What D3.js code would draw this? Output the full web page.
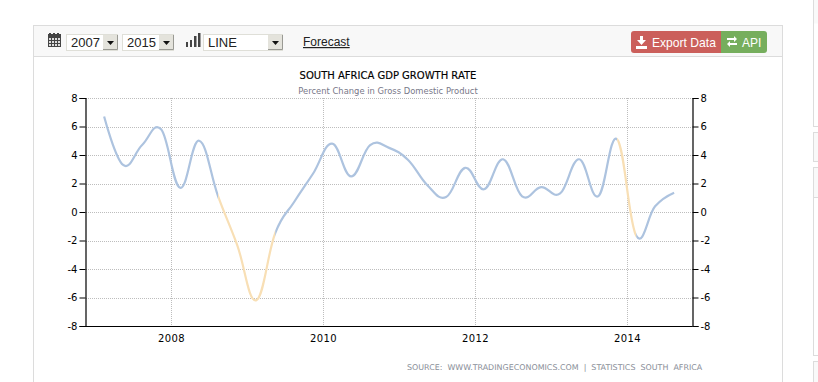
<!DOCTYPE html>
<html><head><meta charset="utf-8">
<script src="https://cdnjs.cloudflare.com/ajax/libs/d3/7.8.5/d3.min.js"></script>
<style>html,body{margin:0;padding:0;background:#fff;overflow:hidden}svg{display:block}</style>
</head><body><svg id="c" width="818" height="382"></svg>
<script>
const years=[2008,2010,2012,2014];
const yTicks=[-8,-6,-4,-2,0,2,4,6,8];
const quarters=[2007.12,2007.37,2007.62,2007.87,2008.12,2008.37,2008.62,2008.87,2009.12,2009.37,2009.62,2009.87,2010.12,2010.37,2010.62,2010.87,2011.12,2011.37,2011.62,2011.87,2012.12,2012.37,2012.62,2012.87,2013.12,2013.37,2013.62,2013.87,2014.12,2014.37,2014.62];
const growth=[6.7,3.3,4.7,5.8,1.7,5,1.1,-2.3,-6.2,-1.5,0.7,2.7,4.8,2.5,4.7,4.5,3.65,1.9,1.05,3.1,1.6,3.7,1.1,1.75,1.3,3.7,1.1,5.1,-1.65,0.4,1.35];
const orangeRuns=[[2008.62,2009.37],[2013.87,2014.12]];
const blueRuns=[[2007,2008.62],[2009.37,2013.87],[2014.12,2015]];
const title="SOUTH AFRICA GDP GROWTH RATE";
const subtitle="Percent Change in Gross Domestic Product";
const source="SOURCE:  WWW.TRADINGECONOMICS.COM  |  STATISTICS  SOUTH  AFRICA";
const startYear="2007",endYear="2015",chartType="LINE";

const svg=d3.select("#c");
const x=d3.scaleLinear().domain([2008,2014]).range([171,627]);
const y=d3.scaleLinear().domain([-8,8]).range([326,98]);
const L=85.5,R=692.5;
const ui="'Liberation Sans',Arial,sans-serif", ch="'DejaVu Sans',Verdana,sans-serif";

// panel
svg.append("rect").attr("x",33.5).attr("y",25.5).attr("width",749).attr("height",370).attr("fill","#fff").attr("stroke","#dcdcdc");
svg.append("rect").attr("x",33.5).attr("y",25.5).attr("width",749).attr("height",31).attr("fill","#f8f8f8").attr("stroke","#dcdcdc");
// neighbouring boxes at the right edge
[[-10,126.5,null],[132.5,161.5,null],[167.5,355.5,197.5],[361.5,400,null]].forEach(b=>{
  const g=svg.append("g");
  g.append("rect").attr("x",813.5).attr("y",b[0]).attr("width",20).attr("height",b[1]-b[0]).attr("fill","#fff").attr("stroke","#dcdcdc");
  g.append("rect").attr("x",814).attr("y",b[0]+.5).attr("width",6).attr("height",(b[2]||(b[0]<0?24:b[1]))-b[0]-1).attr("fill","#f9f9f9");
  if(b[2]) g.append("line").attr("x1",813.5).attr("x2",818).attr("y1",b[2]).attr("y2",b[2]).attr("stroke","#dcdcdc");
});

// calendar icon
const cal=svg.append("g");
cal.append("rect").attr("x",48).attr("y",34).attr("width",13).attr("height",13).attr("fill","#444");
[50,54,58].forEach(a=>cal.append("rect").attr("x",a-1).attr("y",33).attr("width",2).attr("height",3).attr("fill","#444"));
[38,41,44].forEach(b=>[49,52,55,58].forEach(a=>cal.append("rect").attr("x",a).attr("y",b).attr("width",2).attr("height",2).attr("fill","#ddd")));
function select(xp,w,t){
  const g=svg.append("g");
  g.append("rect").attr("x",xp+.5).attr("y",34.5).attr("width",w-1).attr("height",16).attr("fill","#fff").attr("stroke","#dfdfd8").attr("stroke-width",1);
  g.append("text").attr("x",xp+5).attr("y",46.5).attr("font-family",ui).attr("font-size",13).attr("fill","#222").text(t);
  g.append("rect").attr("x",xp+w-15).attr("y",35).attr("width",14).attr("height",15).attr("fill","#e4e3dc");
  g.append("path").attr("d",`M${xp+w-11} 41h7l-3.5 4z`).attr("fill","#111");
  g.append("path").attr("d",`M${xp+w-15} 49.5h14.5V35`).attr("fill","none").attr("stroke","#9a9a94");
}
select(66,52,startYear);select(122,52,endYear);select(203,80,chartType);
[[186,42,2],[190,40,2],[194,36,2.5],[198,33,2.5]].forEach(b=>svg.append("rect").attr("x",b[0]).attr("y",b[1]).attr("width",b[2]).attr("height",47-b[1]).attr("fill","#444"));
svg.append("text").attr("x",303).attr("y",46).attr("font-family",ui).attr("font-size",12).attr("fill","#222").attr("text-decoration","underline").text("Forecast");

// buttons
svg.append("path").attr("d","M721 31h-87a3 3 0 0 0-3 3v16a3 3 0 0 0 3 3h87z").attr("fill","#cb5f5b");
svg.append("path").attr("d","M721 31h43a3 3 0 0 1 3 3v16a3 3 0 0 1-3 3h-43z").attr("fill","#76ae5d");
svg.append("path").attr("d","M640 36h3v4h3l-4.5 5-4.5-5h3zM636 46h11v3h-11z").attr("fill","#fff");
svg.append("text").attr("x",652).attr("y",46.5).attr("font-family",ui).attr("font-size",12.1).attr("fill","#fff").text("Export Data");
svg.append("path").attr("d","M727 38h7v-2l3 3-3 3v-2h-7zM737 43h-7v-2l-3 3 3 3v-2h7z").attr("fill","#fff");
svg.append("text").attr("x",742).attr("y",46.5).attr("font-family",ui).attr("font-size",12).attr("fill","#fff").text("API");

// titles
svg.append("text").attr("x",388).attr("y",79).attr("text-anchor","middle").attr("font-family",ch).attr("font-size",10).attr("fill","#000").attr("stroke","#000").attr("stroke-width",.15).text(title);
svg.append("text").attr("x",388).attr("y",94).attr("text-anchor","middle").attr("font-family",ch).attr("font-size",8.4).attr("fill","#778").text(subtitle);

// grid
const grid=svg.append("g").attr("stroke","#bdbdbd").attr("stroke-dasharray","1 1");
yTicks.slice(1).forEach(v=>grid.append("line").attr("x1",86).attr("x2",692).attr("y1",Math.round(y(v))+.5).attr("y2",Math.round(y(v))+.5));
years.forEach(v=>grid.append("line").attr("x1",x(v)+.5).attr("x2",x(v)+.5).attr("y1",98).attr("y2",326));

// axes
const fmt=d=>String(d);
const axL=svg.append("g").attr("transform",`translate(${L},0)`).call(d3.axisLeft(y).tickValues(yTicks).tickFormat(fmt).tickSize(6).tickPadding(2));
const axR=svg.append("g").attr("transform",`translate(${R},0)`).call(d3.axisRight(y).tickValues(yTicks).tickFormat(fmt).tickSize(6).tickPadding(2));
const axB=svg.append("g").attr("transform","translate(0,326.5)").call(d3.axisBottom(x).tickValues(years).tickFormat(fmt).tickSize(0).tickPadding(8));
axB.select(".domain").attr("d",`M${L},0H${R}`);
[axL,axR,axB].forEach(a=>{a.selectAll("path.domain").attr("stroke","#000").attr("stroke-width",1.2);a.selectAll("line").attr("stroke","#000");a.selectAll("text").attr("font-family",ch).attr("font-size",10).attr("fill","#000");});
axB.selectAll("text").attr("letter-spacing",.4);

// series
const line=d3.line().x((d,i)=>x(quarters[i])).y(d=>y(d)).curve(d3.curveCardinal.tension(-0.2));
const defs=svg.append("defs");
function clip(id,runs){const c=defs.append("clipPath").attr("id",id);
  runs.forEach(r=>c.append("rect").attr("x",x(r[0])).attr("y",0).attr("width",x(r[1])-x(r[0])).attr("height",382));}
clip("orange",orangeRuns);clip("blue",blueRuns);
svg.append("g").attr("clip-path","url(#blue)").append("path").attr("d",line(growth)).attr("fill","none").attr("stroke","#adc3df").attr("stroke-width",2.2);
svg.append("g").attr("clip-path","url(#orange)").append("path").attr("d",line(growth)).attr("fill","none").attr("stroke","#f8dfb5").attr("stroke-width",2.2);

svg.append("text").attr("x",407).attr("y",370).attr("font-family",ch).attr("font-size",7.95).attr("fill","#8a8f99").style("white-space","pre").text(source);
</script></body></html>
